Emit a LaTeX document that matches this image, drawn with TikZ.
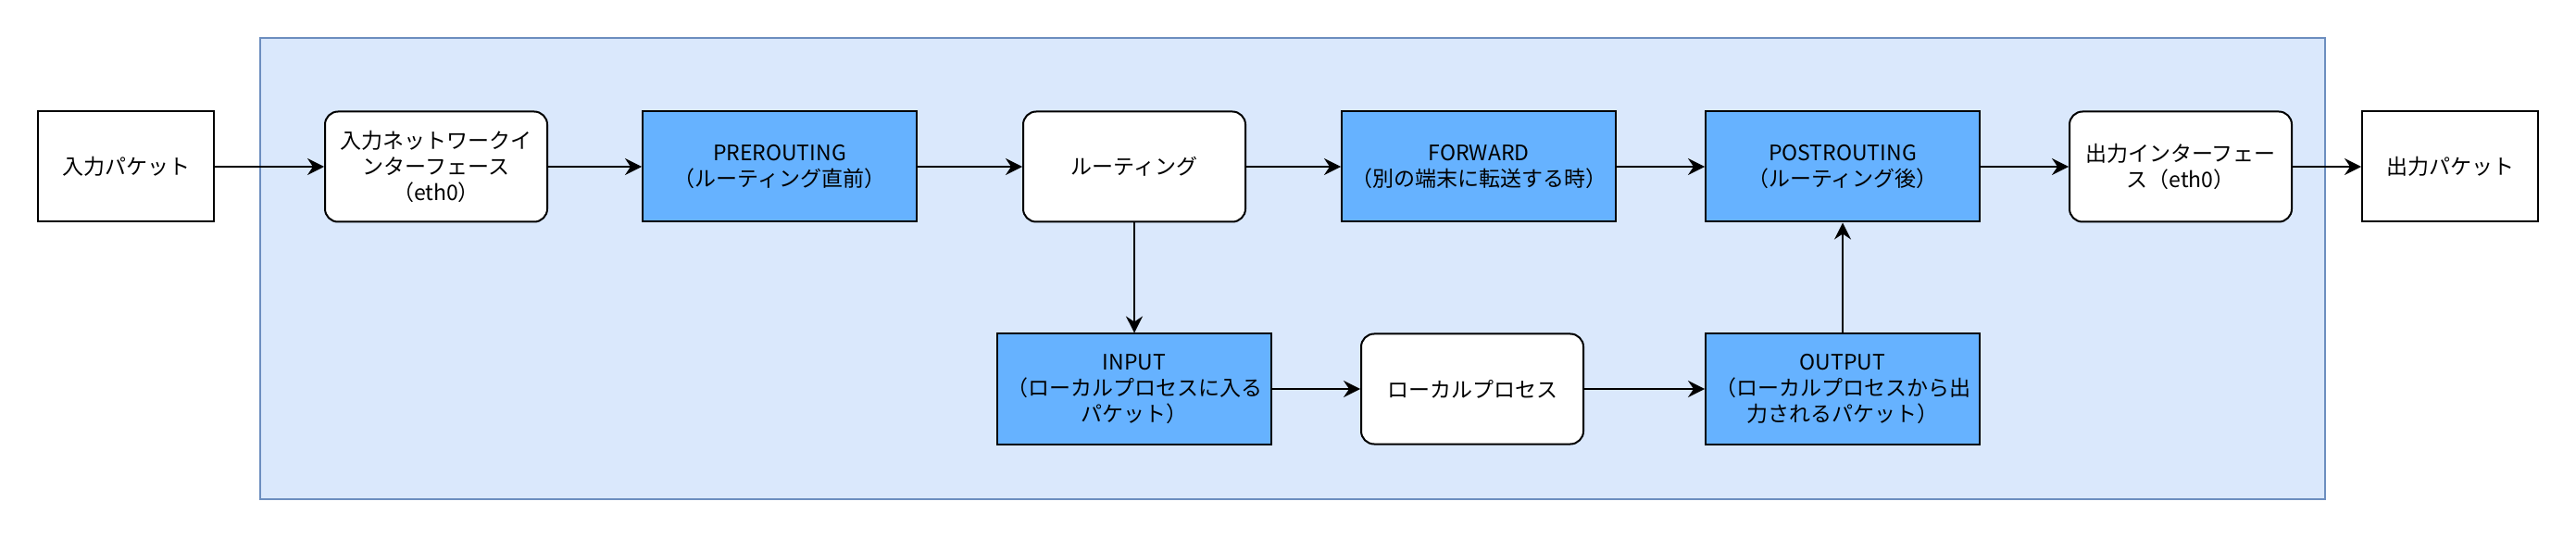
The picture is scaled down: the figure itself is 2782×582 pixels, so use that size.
\documentclass[tikz,border=0pt]{standalone}
\usepackage{fontspec}
\setmainfont{Noto Sans CJK JP}
\usetikzlibrary{arrows.meta}
\definecolor{contfill}{HTML}{DAE8FC}
\definecolor{contdraw}{HTML}{6C8EBF}
\definecolor{hookfill}{HTML}{66B2FF}
\tikzset{
  base/.style={draw=black, line width=1pt, minimum height=59.5pt, inner sep=2pt, align=center, font=\fontsize{11.5}{14}\selectfont},
  plainbox/.style={base, fill=white, minimum width=95pt},
  procbox/.style={base, fill=white, rounded corners=7pt, minimum width=120pt},
  hookbox/.style={base, fill=hookfill, minimum width=148pt},
  conn/.style={line width=1pt, -{Stealth[length=9pt, width=9pt, inset=3pt]}},
  vconn/.style={line width=0.7pt, -{Stealth[length=9pt, width=9pt, inset=3pt]}},
}
\begin{document}
\begin{tikzpicture}[x=0.5pt, y=-0.5pt]
\useasboundingbox (0,0) rectangle (2782,582);
\draw[fill=contfill, draw=contdraw, line width=1pt] (281,41) rectangle (2511,539);

\node[plainbox] (inpkt) at (136,180) {入力パケット};
\node[procbox] (nic) at (471,180) {入力ネットワークイ\\ンターフェース\\（eth0）};
\node[hookbox] (pre) at (842,180) {PREROUTING\\（ルーティング直前）};
\node[procbox] (rt) at (1225,180) {ルーティング};
\node[hookbox] (fwd) at (1597,180) {FORWARD\\（別の端末に転送する時）};
\node[hookbox] (post) at (1990,180) {POSTROUTING\\（ルーティング後）};
\node[procbox] (oif) at (2355,180) {出力インターフェー\\ス（eth0）};
\node[plainbox] (outpkt) at (2646,180) {出力パケット};
\node[hookbox] (inp) at (1225,420) {INPUT\\（ローカルプロセスに入る\\パケット）};
\node[procbox] (lp) at (1590,420) {ローカルプロセス};
\node[hookbox] (outp) at (1990,420) {OUTPUT\\（ローカルプロセスから出\\力されるパケット）};

\draw[conn] (inpkt) -- (nic);
\draw[conn] (nic) -- (pre);
\draw[conn] (pre) -- (rt);
\draw[conn] (rt) -- (fwd);
\draw[conn] (fwd) -- (post);
\draw[conn] (post) -- (oif);
\draw[conn] (oif) -- (outpkt);
\draw[vconn] (rt) -- (inp);
\draw[conn] (inp) -- (lp);
\draw[conn] (lp) -- (outp);
\draw[vconn] (outp) -- (post);
\end{tikzpicture}
\end{document}
